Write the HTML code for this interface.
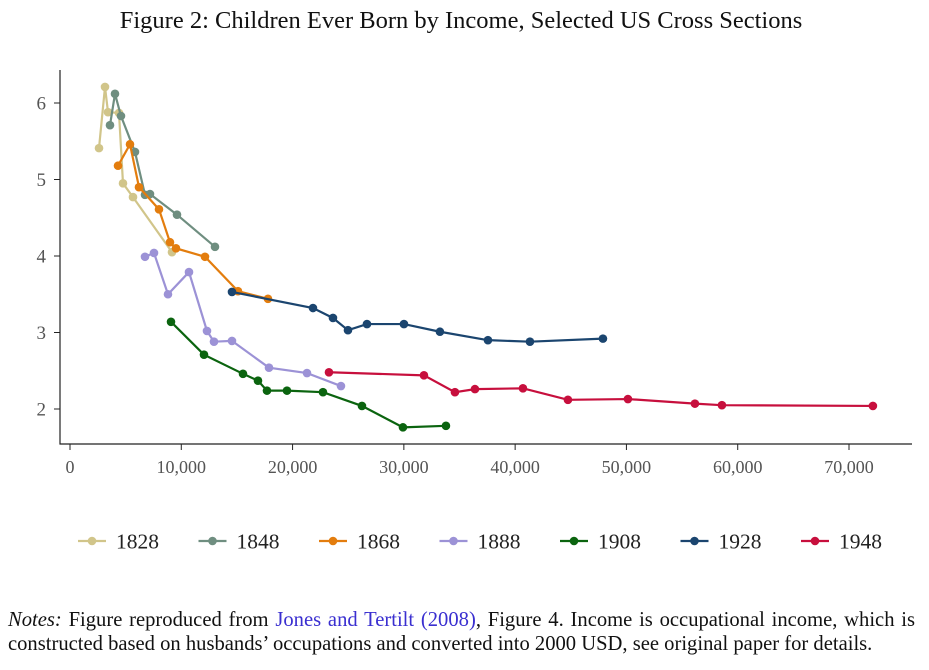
<!DOCTYPE html>
<html><head><meta charset="utf-8">
<style>
body{margin:0;background:#fff;width:929px;height:670px;overflow:hidden;font-family:"Liberation Serif",serif;}
svg{position:absolute;left:0;top:0;}
.notes{position:absolute;left:8px;top:609px;font-size:20.6px;line-height:23.5px;color:#111;width:907px;}
.notes div{white-space:nowrap;}
.notes .l1{text-align:justify;text-align-last:justify;}
.notes a{color:#3a2fd0;text-decoration:none;}
</style></head><body>
<svg id="chart" width="929" height="600">
<text x="461" y="28" text-anchor="middle" font-size="24.5" font-family="Liberation Serif, serif" fill="#111">Figure 2: Children Ever Born by Income, Selected US Cross Sections</text>
</svg>
<div class="notes"><div class="l1" style="white-space:normal"><i>Notes:</i> Figure reproduced from <a>Jones and Tertilt (2008)</a>, Figure 4. Income is occupational income, which is</div><div>constructed based on husbands’ occupations and converted into 2000 USD, see original paper for details.</div></div>
<script>
const seriesNames=["1828","1848","1868","1888","1908","1928","1948"];
const seriesColors=["#d1c58a","#6f8e80","#e37d0e","#9c92d6","#0b640f","#1b456f","#c70f3d"];
const x1828=[2606,3145,3414,4402,4762,5660,9164];
const y1828=[5.41,6.21,5.88,5.87,4.95,4.77,4.05];
const x1848=[3594,4043,4582,5840,6739,7188,9614,13028];
const y1848=[5.71,6.12,5.83,5.36,4.80,4.81,4.54,4.12];
const x1868=[4313,5391,6199,7996,8985,9524,12129,15094,17790];
const y1868=[5.18,5.46,4.90,4.61,4.18,4.10,3.99,3.54,3.44];
const x1888=[6739,7547,8805,10692,12309,12938,14555,17880,21294,24349];
const y1888=[3.99,4.04,3.50,3.79,3.02,2.88,2.89,2.54,2.47,2.30];
const x1908=[9075,12040,15544,16891,17700,19497,22731,26235,29919,33783];
const y1908=[3.14,2.71,2.46,2.37,2.24,2.24,2.22,2.04,1.76,1.78];
const x1928=[14555,21833,23630,24978,26685,30009,33243,37556,41330,47889];
const y1928=[3.53,3.32,3.19,3.03,3.11,3.11,3.01,2.90,2.88,2.92];
const x1948=[23270,31806,34591,36388,40701,44744,50135,56155,58580,72147];
const y1948=[2.48,2.44,2.22,2.26,2.27,2.12,2.13,2.07,2.05,2.04];
const xTicks=[0,10000,20000,30000,40000,50000,60000,70000];
const xTickLabels=["0","10,000","20,000","30,000","40,000","50,000","60,000","70,000"];
const yTicks=[2,3,4,5,6];
const yTickLabels=["2","3","4","5","6"];
const allX=[x1828,x1848,x1868,x1888,x1908,x1928,x1948];
const allY=[y1828,y1848,y1868,y1888,y1908,y1928,y1948];

const NS="http://www.w3.org/2000/svg";
const svg=document.getElementById('chart');
const X=v=>70+v*(779/70000);
const Y=v=>103+(6-v)*76.5;
function mk(t,a,parent){const e=document.createElementNS(NS,t);for(const k in a)e.setAttribute(k,a[k]);(parent||svg).appendChild(e);return e;}
let ax=mk('line',{x1:60,y1:70,x2:60,y2:444.5,stroke:'#222','stroke-width':1.2});


ax=mk('line',{x1:59.5,y1:444,x2:912,y2:444,stroke:'#222','stroke-width':1.2});


xTicks.forEach((t,i)=>{
 const l=mk('line',{x1:X(t),y1:444,x2:X(t),y2:450,stroke:'#222','stroke-width':1});
 
 
 const tx=mk('text',{x:X(t),y:473,'text-anchor':'middle','font-size':18,fill:'#555','font-family':'Liberation Serif, serif'});
 tx.textContent=xTickLabels[i];
 
 
});
yTicks.forEach((t,i)=>{
 const l=mk('line',{x1:54,y1:Y(t),x2:60,y2:Y(t),stroke:'#222','stroke-width':1});
 
 
 const tx=mk('text',{x:46,y:Y(t)+6.5,'text-anchor':'end','font-size':19,fill:'#555','font-family':'Liberation Serif, serif'});
 tx.textContent=yTickLabels[i];
 
 
});
allX.forEach((xs,s)=>{
 const g=mk('g',{});
 
 
 const pl=mk('polyline',{points:xs.map((x,i)=>X(x)+','+Y(allY[s][i])).join(' '),fill:'none',stroke:seriesColors[s],'stroke-width':2.2},g);
 
 
 xs.forEach((x,i)=>{
  const c=mk('circle',{cx:X(x),cy:Y(allY[s][i]),r:4.3,fill:seriesColors[s]},g);
  
  
 });
});
seriesNames.forEach((n,i)=>{
 const x0=78+i*120.5;
 const g=mk('g',{});
 
 
 mk('line',{x1:x0,y1:541,x2:x0+28,y2:541,stroke:seriesColors[i],'stroke-width':2.2},g);
 mk('circle',{cx:x0+14,cy:541,r:4.3,fill:seriesColors[i]},g);
 const t=mk('text',{x:x0+38,y:548.5,'font-size':21.5,fill:'#222','font-family':'Liberation Serif, serif'},g);
 t.textContent=n;
});
</script>
</body></html>
